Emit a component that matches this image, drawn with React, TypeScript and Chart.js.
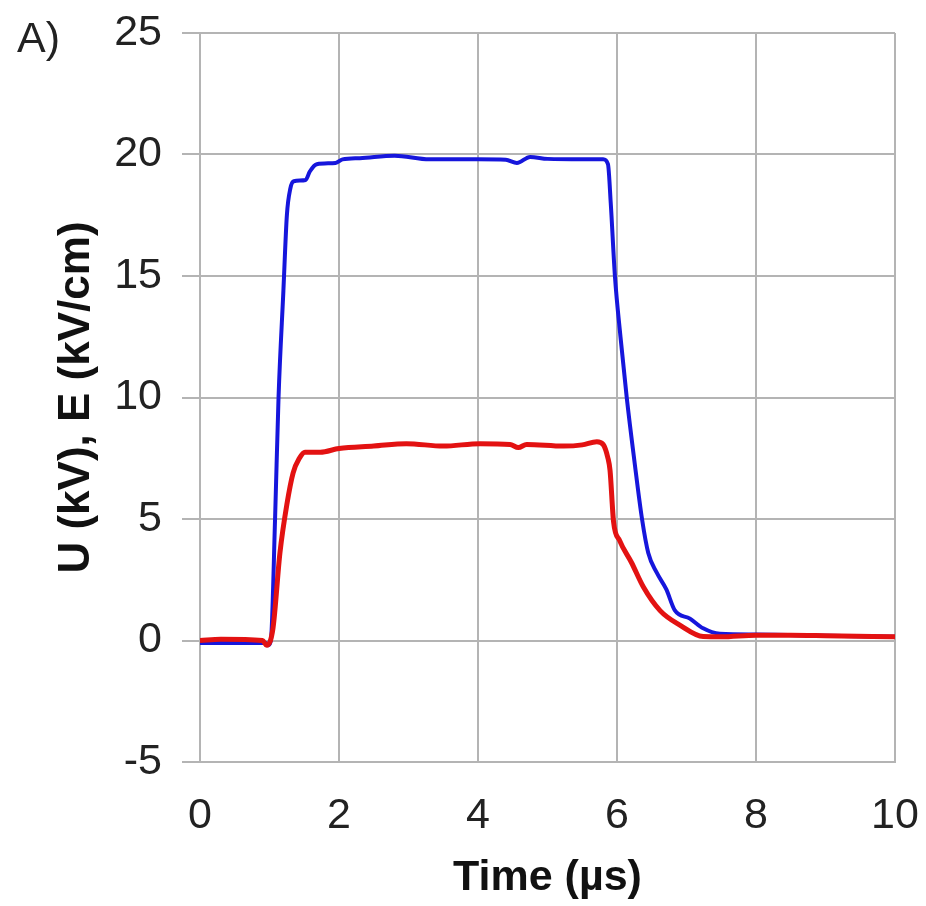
import React, { useEffect, useRef } from "react";
import { Chart, registerables } from "chart.js";

Chart.register(...registerables);

// Voltage U (kV) – blue trace
const timeU = [0, 0.5, 0.95, 0.98, 1.02, 1.08, 1.13, 1.2, 1.25, 1.3, 1.35, 1.52, 1.58, 1.68, 1.95, 2.05, 2.3, 2.8, 3.3, 4.0, 4.4, 4.56, 4.75, 5.0, 5.5, 5.8, 5.87, 5.91, 5.97, 6.05, 6.14, 6.25, 6.36, 6.45, 6.57, 6.71, 6.83, 7.05, 7.24, 7.48, 8.0, 9.0, 10];
const valuesU = [-0.1, -0.1, -0.1, -0.2, 0, 5, 10, 14.4, 17.5, 18.6, 18.9, 18.95, 19.3, 19.6, 19.65, 19.8, 19.85, 19.95, 19.8, 19.8, 19.78, 19.65, 19.9, 19.82, 19.8, 19.8, 19.6, 18, 15, 12.5, 10, 7.4, 5, 3.6, 2.8, 2.1, 1.25, 0.9, 0.5, 0.28, 0.25, 0.2, 0.15];

// Electric field E (kV/cm) – red trace
const timeE = [0, 0.3, 0.9, 0.96, 1.05, 1.15, 1.25, 1.34, 1.43, 1.51, 1.73, 2.0, 2.5, 2.97, 3.5, 4.03, 4.46, 4.58, 4.7, 5.23, 5.5, 5.71, 5.8, 5.87, 5.9, 5.95, 6.04, 6.21, 6.38, 6.62, 6.91, 7.24, 7.5, 8.0, 8.5, 9.0, 10];
const valuesE = [0.0, 0.05, 0.0, -0.2, 0.5, 3.6, 5.6, 6.9, 7.5, 7.75, 7.75, 7.9, 8.0, 8.1, 8.0, 8.1, 8.07, 7.94, 8.07, 8.0, 8.05, 8.18, 8.07, 7.5, 7.0, 4.9, 4.1, 3.2, 2.2, 1.23, 0.62, 0.16, 0.15, 0.22, 0.22, 0.2, 0.15];

const xTicks = [0, 2, 4, 6, 8, 10];
const yTicks = [-5, 0, 5, 10, 15, 20, 25];

const panelLabel = "A)";
const xTitle = "Time (µs)";
const yTitle = "U (kV), E (kV/cm)";

const FONT = "'Liberation Sans', Arial, Helvetica, sans-serif";

export default function App() {
  const ref = useRef<HTMLCanvasElement | null>(null);

  useEffect(() => {
    if (!ref.current) return;
    const panelPlugin = {
      id: "panelLabel",
      afterDraw(chart: any) {
        const ctx = chart.ctx;
        ctx.save();
        ctx.font = `43px ${FONT}`;
        ctx.fillStyle = "#222";
        ctx.textAlign = "left";
        ctx.textBaseline = "alphabetic";
        ctx.fillText(panelLabel, 17, 52);
        ctx.restore();
      },
    };
    const chart = new Chart(ref.current, {
      type: "line",
      data: {
        datasets: [
          {
            label: "E",
            data: timeE.map((t, i) => ({ x: t, y: valuesE[i] })),
            borderColor: "#e31212",
            borderWidth: 5,
            pointRadius: 0,
            cubicInterpolationMode: "monotone",
            fill: false,
          },
          {
            label: "U",
            data: timeU.map((t, i) => ({ x: t, y: valuesU[i] })),
            borderColor: "#1616dc",
            borderWidth: 4,
            pointRadius: 0,
            cubicInterpolationMode: "monotone",
            fill: false,
          },
        ],
      },
      options: {
        animation: false,
        responsive: false,
        maintainAspectRatio: false,
        layout: { padding: { top: 33, right: 31, left: 0, bottom: 0 } },
        plugins: {
          legend: { display: false },
          tooltip: { enabled: false },
        },
        scales: {
          x: {
            type: "linear",
            min: 0,
            max: 10,
            afterBuildTicks: (scale: any) => {
              scale.ticks = xTicks.map((v) => ({ value: v }));
            },
            afterFit: (scale: any) => {
              scale.height = 144;
              scale.paddingLeft = 0;
              scale.paddingRight = 0;
            },
            grid: { color: "#b4b4b4", lineWidth: 2, drawTicks: false },
            border: { color: "#b4b4b4", width: 2 },
            ticks: {
              color: "#222",
              font: { family: FONT, size: 43 },
              padding: 28,
              maxRotation: 0,
            },
            title: {
              display: true,
              text: xTitle,
              color: "#111",
              font: { family: FONT, size: 43, weight: "bold" },
              padding: { top: 0, bottom: 2 },
            },
          },
          y: {
            type: "linear",
            min: -5,
            max: 25,
            afterBuildTicks: (scale: any) => {
              scale.ticks = yTicks.map((v) => ({ value: v }));
            },
            afterFit: (scale: any) => {
              scale.width = 200;
              scale.paddingTop = 0;
              scale.paddingBottom = 0;
            },
            grid: { color: "#b4b4b4", lineWidth: 2, drawTicks: true, tickLength: 18 },
            border: { color: "#b4b4b4", width: 2 },
            ticks: {
              color: "#222",
              font: { family: FONT, size: 43 },
              padding: 20,
            },
            title: {
              display: true,
              text: yTitle,
              color: "#111",
              font: { family: FONT, size: 44, weight: "bold" },
              padding: { top: 50, bottom: 0 },
            },
          },
        },
      },
      plugins: [panelPlugin],
    });
    return () => chart.destroy();
  }, []);

  return (
    <div style={{ position: "absolute", left: 0, top: 0, width: 926, height: 906, background: "#fff" }}>
      <canvas ref={ref} width={926} height={906} style={{ width: 926, height: 906, display: "block" }} />
    </div>
  );
}
